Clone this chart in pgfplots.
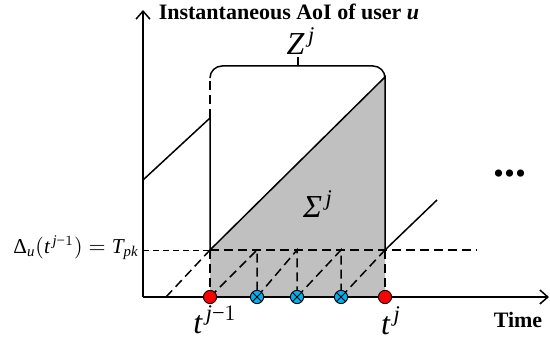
\documentclass[border=0pt]{standalone}
\usepackage{pgfplots}
\pgfplotsset{compat=1.18}
\usepackage{amsmath}
\usepackage{fontspec}
\setmainfont{Liberation Serif}
\usetikzlibrary{plotmarks,arrows.meta}
\definecolor{shade}{RGB}{192,192,192}
\definecolor{updblue}{RGB}{0,176,240}
\definecolor{updred}{RGB}{255,0,0}
\tikzset{dsh/.style={dash pattern=on 4.5pt off 2.5pt}}

\begin{document}
\begin{tikzpicture}
  \begin{axis}[
      x=0.5pt, y=0.5pt,
      xmin=0, xmax=550, ymin=0, ymax=341,
      hide axis, clip=false,
      every axis plot/.append style={line width=0.75pt}]
    % shaded area Sigma^j
    \addplot[fill=shade, draw=none] coordinates {(210,44) (210,91) (385,264) (385,44)} -- cycle;

    % axes
    \addplot[black, -{Straight Barb[length=4pt,width=7pt]}] coordinates {(143,44) (143,331)};
    \addplot[black, -{Straight Barb[length=4pt,width=7pt]}] coordinates {(143,44) (549,44)};

    % age before t^{j-1}
    \addplot[black] coordinates {(143,161) (210,223) (210,91)};
    \addplot[black, dsh] coordinates {(210,91) (210,44)};
    \addplot[black, dsh] coordinates {(210,223) (210,264)};

    % age over the interval Z^j
    \addplot[black] coordinates {(210,91) (385,264) (385,91)};
    \addplot[black, dsh] coordinates {(385,91) (385,44)};
    \addplot[black, dsh] coordinates {(166,44) (210,91)};
    \addplot[black] coordinates {(385,91) (437,141)};

    % T_pk level
    \addplot[black, line width=0.45pt, dash pattern=on 3pt off 2pt] coordinates {(143,91) (210,91)};
    \addplot[black, dsh] coordinates {(210,91) (477,91)};

    % local updates
    \addplot[black, dsh] coordinates {(210,44) (257,91) (257,44)};
    \addplot[black, dsh] coordinates {(257,44) (297,91) (297,44)};
    \addplot[black, dsh] coordinates {(297,44) (341,91) (341,44)};
    \addplot[black, dsh] coordinates {(341,44) (385,91)};

    % brace Z^j
    \addplot[black, rounded corners=6pt] coordinates {(210,264) (210,275) (385,275) (385,264)};
    \addplot[black] coordinates {(298,275) (298,284)};

    % markers
    \addplot[only marks, mark=*, mark size=3.3pt,
      mark options={fill=updred, draw=black, line width=0.45pt}]
      coordinates {(210,44) (385,44)};
    \addplot[only marks, mark=otimes*, mark size=3.3pt,
      mark options={fill=updblue, draw=black, line width=0.45pt}]
      coordinates {(257,44) (297,44) (341,44)};

    % labels
    \node[font=\fontsize{11}{12}\selectfont\bfseries] at (axis cs:289,329) {Instantaneous AoI of user \textit{u}};
    \node[font=\fontsize{16}{17}\selectfont] at (axis cs:301,300) {$\textit{Z}^{\,\textit{j}}$};
    \node[font=\fontsize{16}{17}\selectfont] at (axis cs:318,137) {$\textit{Σ}^{\,\textit{j}}$};
    \node[font=\fontsize{10.6}{12}\selectfont, anchor=east, inner sep=1pt] at (axis cs:141,93)
      {$\text{Δ}_{\textit{u}}(\textit{t}^{\,\textit{j}\text{−}1})=\textit{T}_{\textit{pk}}$};
    \node[font=\fontsize{16}{17}\selectfont] at (axis cs:215,21) {$\textit{t}^{\,\textit{j}\text{−}1}$};
    \node[font=\fontsize{16}{17}\selectfont] at (axis cs:391,20) {$\textit{t}^{\,\textit{j}}$};
    \node[font=\fontsize{11}{12}\selectfont\bfseries] at (axis cs:518,21) {Time};
    \node[font=\fontsize{22}{23}\selectfont\bfseries] at (axis cs:510,167) {...};
  \end{axis}
  \pgfresetboundingbox
  \path (current axis.south west) rectangle (current axis.north east);
\end{tikzpicture}
\end{document}
